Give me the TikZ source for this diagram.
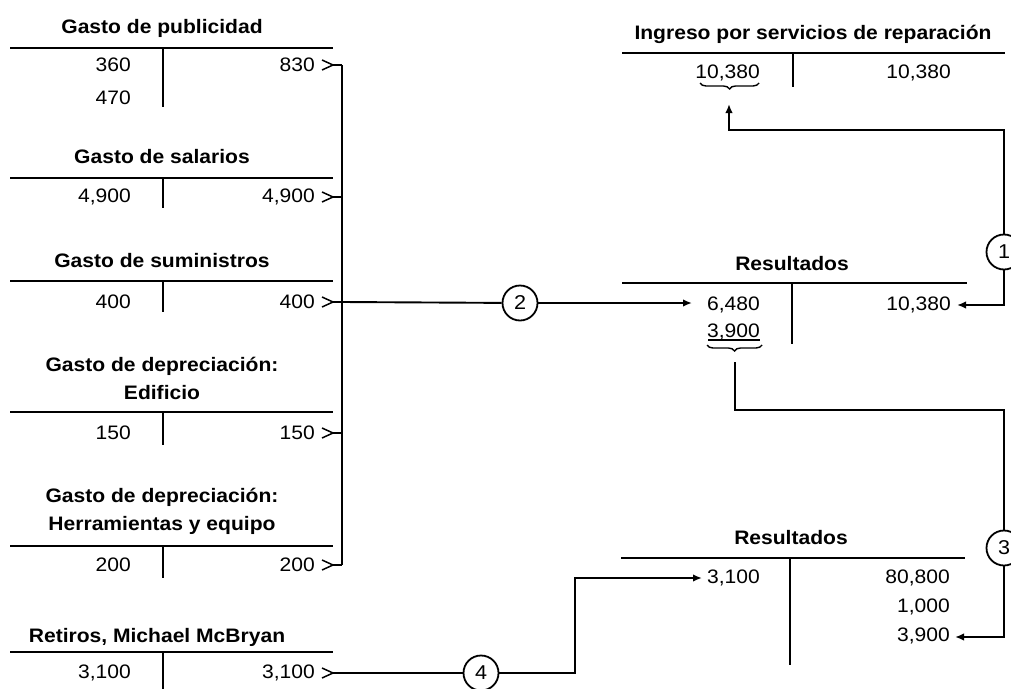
\documentclass[tikz,border=0pt]{standalone}
\usepackage{fontspec}
\setmainfont{Liberation Sans}[FakeStretch=1.08]
\usetikzlibrary{arrows.meta,decorations.pathreplacing}

\tikzset{
  acctitle/.style={font=\fontsize{19.5}{28}\selectfont\bfseries, inner sep=0pt, align=center},
  num/.style={font=\fontsize{19.5}{22}\selectfont, inner sep=0pt, anchor=east},
  tline/.style={line width=2.2pt},
  vline/.style={line width=1.8pt},
  link/.style={line width=1.9pt},
  arr/.style={link, -{Latex[length=9pt,width=7.5pt]}},
  chev/.style={line width=1.5pt},
  stepcircle/.style={circle, draw, line width=1.8pt, minimum size=35pt, inner sep=0pt,
                     fill=white, font=\fontsize{20}{22}\selectfont},
  bracedown/.style={decorate, line width=1.4pt, decoration={brace, amplitude=6pt, mirror}}
}

% closing chevron after a credit amount: #1 = name of the tip, #2 = y
\newcommand{\closemark}[2]{%
  \draw[chev] (322,#2-5) -- (333,#2) -- (322,#2+5);
  \coordinate (#1) at (333,#2);
}

\begin{document}
\begin{tikzpicture}[x=1pt,y=-1pt]
\useasboundingbox (0,0) rectangle (1011,688);
\clip (0,0) rectangle (1011,688);

% ---------- expense T-accounts (left column) ----------
% Gasto de publicidad
\node[acctitle, anchor=base] (tPub) at (162,33) {Gasto de publicidad};
\draw[tline] (10,48) -- (333,48);
\draw[vline] (163,48) -- (163,107);
\node[num] (pubA) at (131,65) {360};
\node[num] (pubB) at (131,98) {470};
\node[num] (pubC) at (315,65) {830};
\closemark{mPub}{65}

% Gasto de salarios
\node[acctitle, anchor=base] (tSal) at (162,163) {Gasto de salarios};
\draw[tline] (10,178) -- (333,178);
\draw[vline] (163,178) -- (163,208);
\node[num] (salA) at (131,197) {4,900};
\node[num] (salC) at (315,197) {4,900};
\closemark{mSal}{197}

% Gasto de suministros
\node[acctitle, anchor=base] (tSum) at (162,267) {Gasto de suministros};
\draw[tline] (10,281) -- (333,281);
\draw[vline] (163,281) -- (163,312);
\node[num] (sumA) at (131,302) {400};
\node[num] (sumC) at (315,302) {400};
\closemark{mSum}{302}

% Gasto de depreciacion: Edificio
\node[acctitle] (tEdi) at (162,378) {Gasto de depreciación:\\Edificio};
\draw[tline] (10,412) -- (333,412);
\draw[vline] (163,412) -- (163,445);
\node[num] (ediA) at (131,433) {150};
\node[num] (ediC) at (315,433) {150};
\closemark{mEdi}{433}

% Gasto de depreciacion: Herramientas y equipo
\node[acctitle] (tHer) at (162,511) {Gasto de depreciación:\\Herramientas y equipo};
\draw[tline] (10,546) -- (333,546);
\draw[vline] (163,546) -- (163,578);
\node[num] (herA) at (131,565) {200};
\node[num] (herC) at (315,565) {200};
\closemark{mHer}{565}

% Retiros
\node[acctitle, anchor=base] (tRet) at (157,642) {Retiros, Michael McBryan};
\draw[tline] (10,652) -- (333,652);
\draw[vline] (163,652) -- (163,690);
\node[num] (retA) at (131,673) {3,100};
\node[num] (retC) at (315,673) {3,100};
\closemark{mRet}{673}

% collecting bus for the expense closings
\coordinate (busTop) at (342,65);
\coordinate (busBot) at (342,565);
\coordinate (busMid) at (342,302);
\draw[link] (busTop) -- (busBot);
\foreach \m/\yy in {mPub/65,mSal/197,mSum/302,mEdi/433,mHer/565}
  \draw[link] (\m) -- (342,\yy);

% ---------- right column ----------
% Ingreso por servicios de reparacion
\node[acctitle, anchor=base] (tIng) at (813,39) {Ingreso por servicios de reparación};
\draw[tline] (622,53) -- (1005,53);
\draw[vline] (793,53) -- (793,87);
\node[num] (ingA) at (760,73) {10,380};
\node[num] (ingC) at (951,73) {10,380};
\draw[bracedown] (700,83) -- (759,83);

% Resultados (first)
\node[acctitle, anchor=base] (tRes1) at (792,270) {Resultados};
\draw[tline] (622,283) -- (967,283);
\draw[vline] (792,283) -- (792,344);
\node[num] (res1A) at (760,305) {6,480};
\node[num] (res1B) at (760,332) {3,900};
\node[num] (res1C) at (951,305) {10,380};
\draw[line width=1.2pt] (708,340) -- (760,340);
\draw[bracedown] (707,345) -- (762,345);

% Resultados (second)
\node[acctitle, anchor=base] (tRes2) at (791,544) {Resultados};
\draw[tline] (621,558) -- (965,558);
\draw[vline] (790,558) -- (790,665);
\node[num] (res2A) at (760,578) {3,100};
\node[num] (res2B) at (950,578) {80,800};
\node[num] (res2C) at (950,607) {1,000};
\node[num] (res2D) at (950,636) {3,900};

% ---------- numbered closing entries ----------
\node[stepcircle] (c1) at (1004,252) {1};
\node[stepcircle] (c2) at (520,303) {2};
\node[stepcircle] (c3) at (1004,548) {3};
\node[stepcircle] (c4) at (481,673) {4};

% entry 1: revenue to Resultados
\coordinate (k1) at (1004,130);
\coordinate (p1) at (729,104);
\coordinate (q1) at (957,305);
\draw[arr] (c1.north) -- (k1) -| (p1);
\draw[arr] (c1.south) |- (q1);

% entry 2: expenses to Resultados
\coordinate (q2) at (692,303);
\draw[link] (busMid) -- (c2);
\draw[arr] (c2) -- (q2);

% entry 3: balance to capital
\coordinate (b3) at (735,362);
\coordinate (k3) at (1004,410);
\coordinate (q3) at (955,637);
\draw[link] (b3) |- (k3) -- (c3.north);
\draw[arr] (c3.south) |- (q3);

% entry 4: withdrawals
\coordinate (k4) at (575,673);
\coordinate (q4) at (702,578);
\draw[link] (mRet) -- (c4);
\draw[arr] (c4.east) -- (k4) |- (q4);

\end{tikzpicture}
\end{document}
